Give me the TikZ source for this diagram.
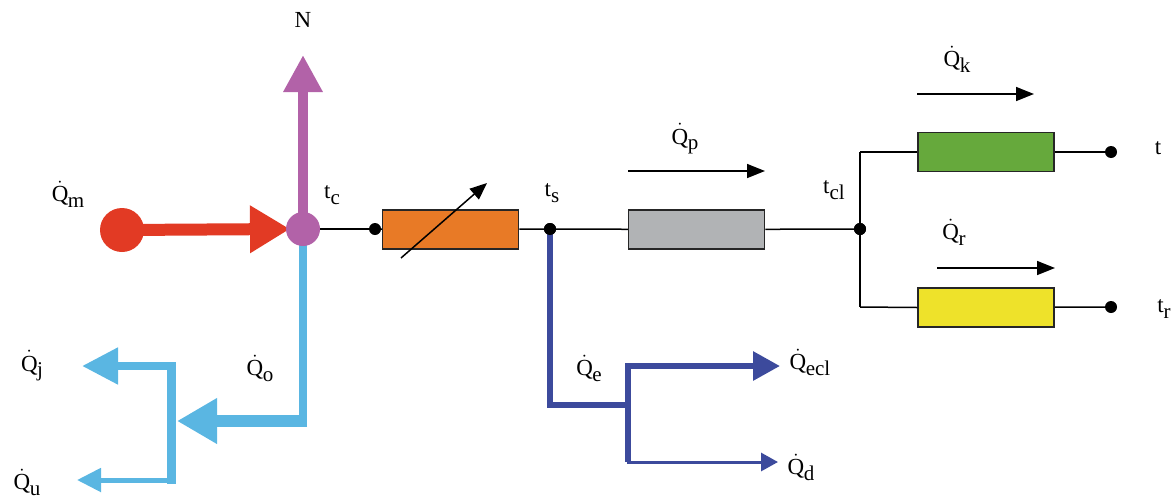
\documentclass[tikz,border=0pt]{standalone}
\usepackage{fontspec}
\setmainfont{Liberation Serif}
\usetikzlibrary{arrows.meta}
\definecolor{cred}{HTML}{E23A24}
\definecolor{cpurple}{HTML}{B262A8}
\definecolor{clblue}{HTML}{5AB6E2}
\definecolor{cdblue}{HTML}{3C4A9C}
\definecolor{corange}{HTML}{E87A26}
\definecolor{cgray}{HTML}{B1B3B5}
\definecolor{cgreen}{HTML}{66A93C}
\definecolor{cyellow}{HTML}{EEE22A}
\newcommand\subx[1]{\raisebox{-0.24em}{\fontsize{21}{22}\selectfont #1}}
\newcommand\Qd[1]{$\dot{\mathrm{Q}}$\kern-0.5pt\subx{#1}}
\begin{document}
\begin{tikzpicture}[x=1pt,y=-1pt,
  lab/.style={inner sep=0pt,font=\fontsize{23}{25}\selectfont},
  res/.style={draw=black!85,line width=1.5pt,minimum width=136pt,minimum height=39pt,inner sep=0pt},
  dotn/.style={circle,fill=black,minimum size=12pt,inner sep=0pt},
  wire/.style={line width=1.5pt},
  flow/.style={line width=1.5pt,-{Triangle[length=18pt,width=14pt]}}]
\useasboundingbox (0,0) rectangle (1174,501);
% coordinates
\coordinate (ntip) at (303,55);
\coordinate (qoTip) at (177,421);
\coordinate (barTop) at (171,362);
\coordinate (barBot) at (171,484);
\coordinate (jTip) at (82,366);
\coordinate (uTip) at (77,480);
\coordinate (eCorner) at (550,405);
\coordinate (eJoin) at (628,405);
\coordinate (eTop) at (628,366);
\coordinate (eBot) at (628,462);
\coordinate (eclTip) at (780,366);
\coordinate (dTip) at (778,462);
\coordinate (clTop) at (860,152);
\coordinate (clBot) at (860,307);
% resistors
\node[res,fill=corange] (rc) at (450.5,229.5) {};
\node[res,fill=cgray] (rp) at (696.5,229.5) {};
\node[res,fill=cgreen] (rk) at (986,152) {};
\node[res,fill=cyellow] (rr) at (986,307.5) {};
% dots
\node[dotn] (d1) at (375,229) {};
\node[dotn] (ts) at (550,229) {};
\node[dotn] (tcl) at (860,229) {};
\node[dotn] (tt) at (1111,152) {};
\node[dotn] (ttr) at (1111,307) {};
% light blue
\draw[clblue,line width=8pt] (303,235) -- (303,427);
\draw[clblue,line width=12pt,-{Triangle[length=40pt,width=43pt]}] (307,421) -- (qoTip);
\draw[clblue,line width=9pt] (barTop) -- (barBot);
\draw[clblue,line width=8pt,-{Triangle[length=36pt,width=35pt]}] (175.5,366) -- (jTip);
\draw[clblue,line width=5pt,-{Triangle[length=24pt,width=23pt]}] (175.5,480) -- (uTip);
% dark blue
\draw[cdblue,line width=6pt] (ts.center) -- (eCorner) -- (eJoin);
\draw[cdblue,line width=6pt] (eTop) -- (eBot);
\draw[cdblue,line width=6pt,-{Triangle[length=27pt,width=28pt]}] (625,366) -- (eclTip);
\draw[cdblue,line width=3pt,-{Triangle[length=17pt,width=18pt]}] (626.5,462) -- (dTip);
% black wires
\draw[wire] (303,229) -- (d1);
\draw[wire] (d1) -- (rc);
\draw[wire] (rc) -- (ts);
\draw[wire] (ts) -- (rp);
\draw[wire] (rp) -- (tcl);
\draw[wire] (clTop) -- (clBot);
\draw[wire] (clTop) -- (rk.west);
\draw[wire] (clBot) -- (rr.west);
\draw[wire] (rk) -- (tt);
\draw[wire] (rr) -- (ttr);
\node[dotn] at (ts) {};
\node[dotn] at (tcl) {};
% variable arrow
\coordinate (va) at (401,258);
\coordinate (vb) at (487,183);
\draw[line width=1.5pt,-{Triangle[length=17pt,width=14pt]}] (va) -- (vb);
% flow arrows
\coordinate (pA) at (628,171); \coordinate (pB) at (765,171);
\coordinate (kA) at (917,94); \coordinate (kB) at (1034,94);
\coordinate (rA) at (937,268); \coordinate (rB) at (1055,268);
\draw[flow] (pA) -- (pB);
\draw[flow] (kA) -- (kB);
\draw[flow] (rA) -- (rB);
% red and purple
\node[circle,fill=cred,minimum size=44pt,inner sep=0pt] (src) at (122,230) {};
\draw[cred,line width=12pt,-{Triangle[length=40pt,width=45pt]}] (src.center) -- (290,229);
\draw[cpurple,line width=10pt,-{Triangle[length=37pt,width=37pt]}] (303,229) -- (ntip);
\node[circle,fill=cpurple,minimum size=34pt,inner sep=0pt] (tc) at (303,229) {};
% labels
\node[lab] (lN) at (303,20) {N};
\node[lab] (lQm) at (68,194) {\Qd{m}};
\node[lab] (ltc) at (332,195) {t\subx{c}};
\node[lab] (lts) at (552,193) {t\subx{s}};
\node[lab] (lQp) at (685,139) {\Qd{p}};
\node[lab] (ltcl) at (834,190) {t\subx{cl}};
\node[lab] (lQk) at (957,59) {\Qd{k}};
\node[lab] (lt) at (1158,148) {t};
\node[lab] (lQr) at (954,232) {\Qd{r}};
\node[lab] (ltr) at (1164,309) {t\subx{r}};
\node[lab] (lQj) at (32,366) {\Qd{j}};
\node[lab] (lQu) at (27,482) {\Qd{u}};
\node[lab] (lQo) at (260,368) {\Qd{o}};
\node[lab] (lQe) at (589,368) {\Qd{e}};
\node[lab] (lQecl) at (810,362) {\Qd{ecl}};
\node[lab] (lQd) at (801,467) {\Qd{d}};
\end{tikzpicture}
\end{document}
